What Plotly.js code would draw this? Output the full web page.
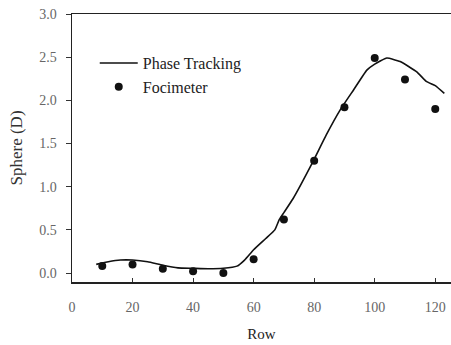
<!DOCTYPE html>
<html>
<head>
<meta charset="utf-8">
<script src="https://cdn.plot.ly/plotly-3.0.1.min.js"></script>
<style>html,body{margin:0;padding:0;background:#fff;}#chart{width:451px;height:345px;}</style>
</head>
<body>
<div id="chart"></div>
<script>
// Phase Tracking curve
const phaseRow = [8, 12, 16, 20, 25, 30, 35, 40, 45, 50, 54.5, 57, 60, 64, 67, 68.5, 70, 73, 79.3, 84, 88.6, 93, 97.4, 100, 104, 108.4, 113.9, 117, 120, 123];
const phaseSphere = [0.10, 0.13, 0.15, 0.15, 0.13, 0.09, 0.06, 0.055, 0.05, 0.055, 0.08, 0.15, 0.27, 0.40, 0.50, 0.62, 0.70, 0.86, 1.27, 1.60, 1.89, 2.12, 2.35, 2.42, 2.49, 2.45, 2.33, 2.22, 2.17, 2.08];
// Focimeter measurements
const fociRow = [10, 20, 30, 40, 50, 60, 70, 80, 90, 100, 110, 120];
const fociSphere = [0.08, 0.10, 0.05, 0.02, 0.0, 0.16, 0.62, 1.30, 1.92, 2.49, 2.24, 1.90];
// Tick labels
const xTicks = [0, 20, 40, 60, 80, 100, 120];
const yTicks = [0, 0.5, 1.0, 1.5, 2.0, 2.5, 3.0];
const yTickText = ["0.0", "0.5", "1.0", "1.5", "2.0", "2.5", "3.0"];

const serif = "Liberation Serif, Times New Roman, serif";
const data = [
  {x: phaseRow, y: phaseSphere, mode: "lines", name: "Phase Tracking", line: {color: "#111", width: 1.6, shape: "spline", smoothing: 0.4}},
  {x: fociRow, y: fociSphere, mode: "markers", name: "Focimeter", marker: {color: "#111", size: 8}}
];
const layout = {
  width: 451, height: 345,
  margin: {l: 71.5, r: 0, t: 14, b: 63.3},
  paper_bgcolor: "#fff", plot_bgcolor: "#fff",
  font: {family: serif, color: "#222"},
  showlegend: true,
  legend: {x: 0.06, y: 0.88, xanchor: "left", yanchor: "top", itemwidth: 38, bgcolor: "rgba(0,0,0,0)", font: {size: 16, family: serif, color: "#222"}, tracegroupgap: 0},
  xaxis: {
    range: [0, 125.2], tickvals: xTicks, ticks: "inside", ticklen: 4, tickcolor: "#333",
    showline: true, linecolor: "#222", linewidth: 1.5, mirror: true, showgrid: false, zeroline: false,
    tickfont: {size: 14, color: "#666", family: serif}, ticklabelstandoff: 12,
    title: {text: "Row", font: {size: 15, color: "#222", family: serif}, standoff: 14}
  },
  yaxis: {
    range: [-0.104, 3.0], tickvals: yTicks, ticktext: yTickText, ticks: "outside", ticklen: 5, tickcolor: "#333",
    showline: true, linecolor: "#222", linewidth: 1.5, showgrid: false, zeroline: false,
    tickfont: {size: 14, color: "#666", family: serif}, ticklabelstandoff: 6,
    title: {text: "Sphere (D)", font: {size: 17, color: "#333", family: serif}, standoff: 12}
  }
};
Plotly.newPlot("chart", data, layout, {displayModeBar: false, staticPlot: true});
</script>
</body>
</html>
